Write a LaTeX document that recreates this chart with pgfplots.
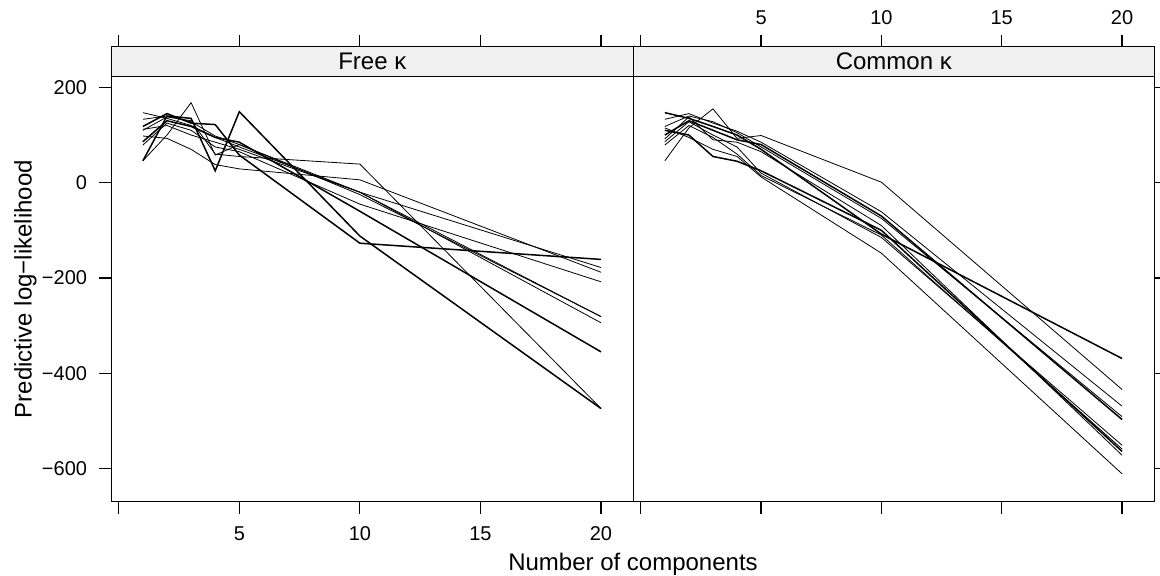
\documentclass[border=0pt]{standalone}
\usepackage{fontspec}
\setmainfont{Liberation Sans}
\usepackage{pgfplots}
\usepackage{pgfplotstable}
\pgfplotsset{compat=1.18}
\definecolor{stripgray}{HTML}{F0F0F0}

% Free kappa: columns = 10 replicates
\pgfplotstableread{
x   a    b    c    d    e    f    g    h    i    j
1   147  46   110  98   118  46   133  86   79   112
2   135  140  138  93   145  100  140  130  125  120
3   120  135  130  70   125  168  128  118  110  100
4   95   25   60   38   122  58   98   95   75   85
5   75   149  55   29   58   80   80   85   65   70
10  -20  -112 39   6    -127 -20  -25  -60  -45  -20
20  -281 -474 -474 -188 -161 -294 -281 -355 -208 -178
}\free

% Common kappa
\pgfplotstableread{
x   a    b    c    d    e    f    g    h    i    j
1   46   147  133  118  100  86   79   110  92   115
2   115  135  145  140  130  128  120  100  138  95
3   155  118  125  128  110  100  95   55   90   70
4   93   100  108  105  90   75   60   45   85   55
5   99   70   85   75   80   20   15   25   65   12
10  1    -108 -61  -75  -70  -115 -110 -100 -90  -148
20  -434 -369 -469 -491 -497 -551 -559 -564 -572 -611
}\common

\pgfplotsset{panel/.style={
  scale only axis, height=212.5pt,
  xmin=-0.31, xmax=21.34, ymin=-669.5, ymax=222.5,
  axis line style={line width=0.6pt},
  tick align=outside, major tick length=6pt,
  tick style={black, line width=0.6pt},
  xtick={0,5,10,15,20}, ytick={-600,-400,-200,0,200},
  xtick pos=left,
  clip=false,
  ticklabel style={font=\fontsize{10}{12}\selectfont},
  cycle list={{black, line width=0.75pt, mark=none}},
}}

\begin{document}
\begin{tikzpicture}
\useasboundingbox (0,0) rectangle (580pt,288pt);

\begin{axis}[panel, width=261pt, at={(55.65pt,37.15pt)}, anchor=south west,
  ytick pos=left,
  xticklabels={,5,10,15,20},
  yticklabels={−600,−400,−200,0,200},
  xticklabel style={yshift=-2.9pt},
  yticklabel style={xshift=-2.6pt}]
  \foreach \c in {a,b,c,d,e,f,g,h,i,j} {\addplot table[x=x,y=\c]{\free};}
  \draw[fill=stripgray, line width=0.6pt] (rel axis cs:0,1) rectangle ([yshift=15pt]rel axis cs:1,1);
  \node[font=\fontsize{12}{14}\selectfont] at ([yshift=7.5pt]rel axis cs:0.5,1) {Free κ};
  \pgfplotsinvokeforeach{0,5,10,15,20}{\draw[line width=0.6pt] ([yshift=15pt]axis cs:#1,222.5) -- ([yshift=21pt]axis cs:#1,222.5);}
\end{axis}

\begin{axis}[panel, width=260.5pt, at={(316.65pt,37.15pt)}, anchor=south west,
  ytick pos=right,
  xticklabels={}, yticklabels={}]
  \foreach \c in {a,b,c,d,e,f,g,h,i,j} {\addplot table[x=x,y=\c]{\common};}
  \draw[fill=stripgray, line width=0.6pt] (rel axis cs:0,1) rectangle ([yshift=15pt]rel axis cs:1,1);
  \node[font=\fontsize{12}{14}\selectfont] at ([yshift=7.5pt]rel axis cs:0.5,1) {Common κ};
  \pgfplotsinvokeforeach{0,5,10,15,20}{\draw[line width=0.6pt] ([yshift=15pt]axis cs:#1,222.5) -- ([yshift=21pt]axis cs:#1,222.5);}
  \pgfplotsinvokeforeach{5,10,15,20}{\node[anchor=base, inner sep=0pt, font=\fontsize{10}{12}\selectfont] at ([yshift=26.25pt]axis cs:#1,222.5) {#1};}
\end{axis}

\node[anchor=base, font=\fontsize{12}{14}\selectfont] at (316.5pt,2.7pt) {Number of components};
\node[rotate=90, anchor=base, font=\fontsize{12}{14}\selectfont] at (15.85pt,143.4pt) {Predictive log−likelihood};
\end{tikzpicture}
\end{document}
